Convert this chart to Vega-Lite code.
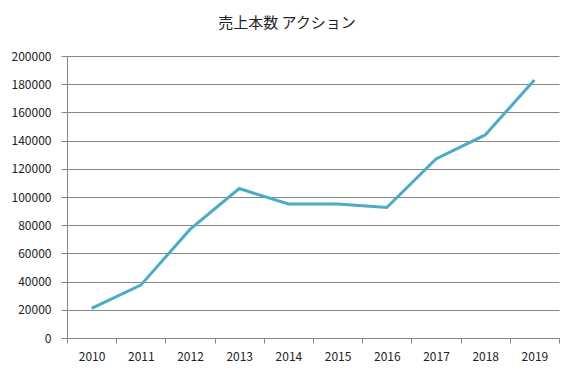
{
  "$schema": "https://vega.github.io/schema/vega-lite/v6.json",
  "width": 492,
  "height": 282,
  "autosize": "none",
  "padding": {"left": 67, "top": 56, "right": 15, "bottom": 41},
  "background": "white",
  "title": {
    "text": "売上本数 アクション",
    "fontSize": 15,
    "font": "Noto Sans CJK JP",
    "fontWeight": "normal",
    "color": "#222222",
    "dx": -26,
    "offset": 19
  },
  "data": {
    "values": [
      {"year": "2010", "sales": 21000},
      {"year": "2011", "sales": 37500},
      {"year": "2012", "sales": 77000},
      {"year": "2013", "sales": 106000},
      {"year": "2014", "sales": 95000},
      {"year": "2015", "sales": 95000},
      {"year": "2016", "sales": 92500},
      {"year": "2017", "sales": 127000},
      {"year": "2018", "sales": 144000},
      {"year": "2019", "sales": 183000}
    ]
  },
  "mark": {"type": "line", "color": "#4BACC6", "strokeWidth": 3, "strokeJoin": "miter"},
  "encoding": {
    "x": {
      "field": "year",
      "type": "ordinal",
      "title": null,
      "scale": {"paddingInner": 0, "paddingOuter": 0},
      "axis": {
        "labelAngle": 0,
        "tickBand": "extent",
        "labelFont": "Noto Sans CJK JP",
        "labelFontSize": 12,
        "labelColor": "#222222",
        "labelPadding": 8,
        "domainColor": "#868686",
        "tickColor": "#868686",
        "tickSize": 5,
        "grid": false
      }
    },
    "y": {
      "field": "sales",
      "type": "quantitative",
      "title": null,
      "scale": {"domain": [0, 200000], "nice": false},
      "axis": {
        "values": [0, 20000, 40000, 60000, 80000, 100000, 120000, 140000, 160000, 180000, 200000],
        "format": "d",
        "labelFont": "Noto Sans CJK JP",
        "labelFontSize": 12,
        "labelColor": "#222222",
        "labelPadding": 10,
        "domainColor": "#868686",
        "tickColor": "#868686",
        "tickSize": 6,
        "gridColor": "#868686",
        "grid": true
      }
    }
  },
  "config": {
    "view": {"stroke": null}
  }
}
